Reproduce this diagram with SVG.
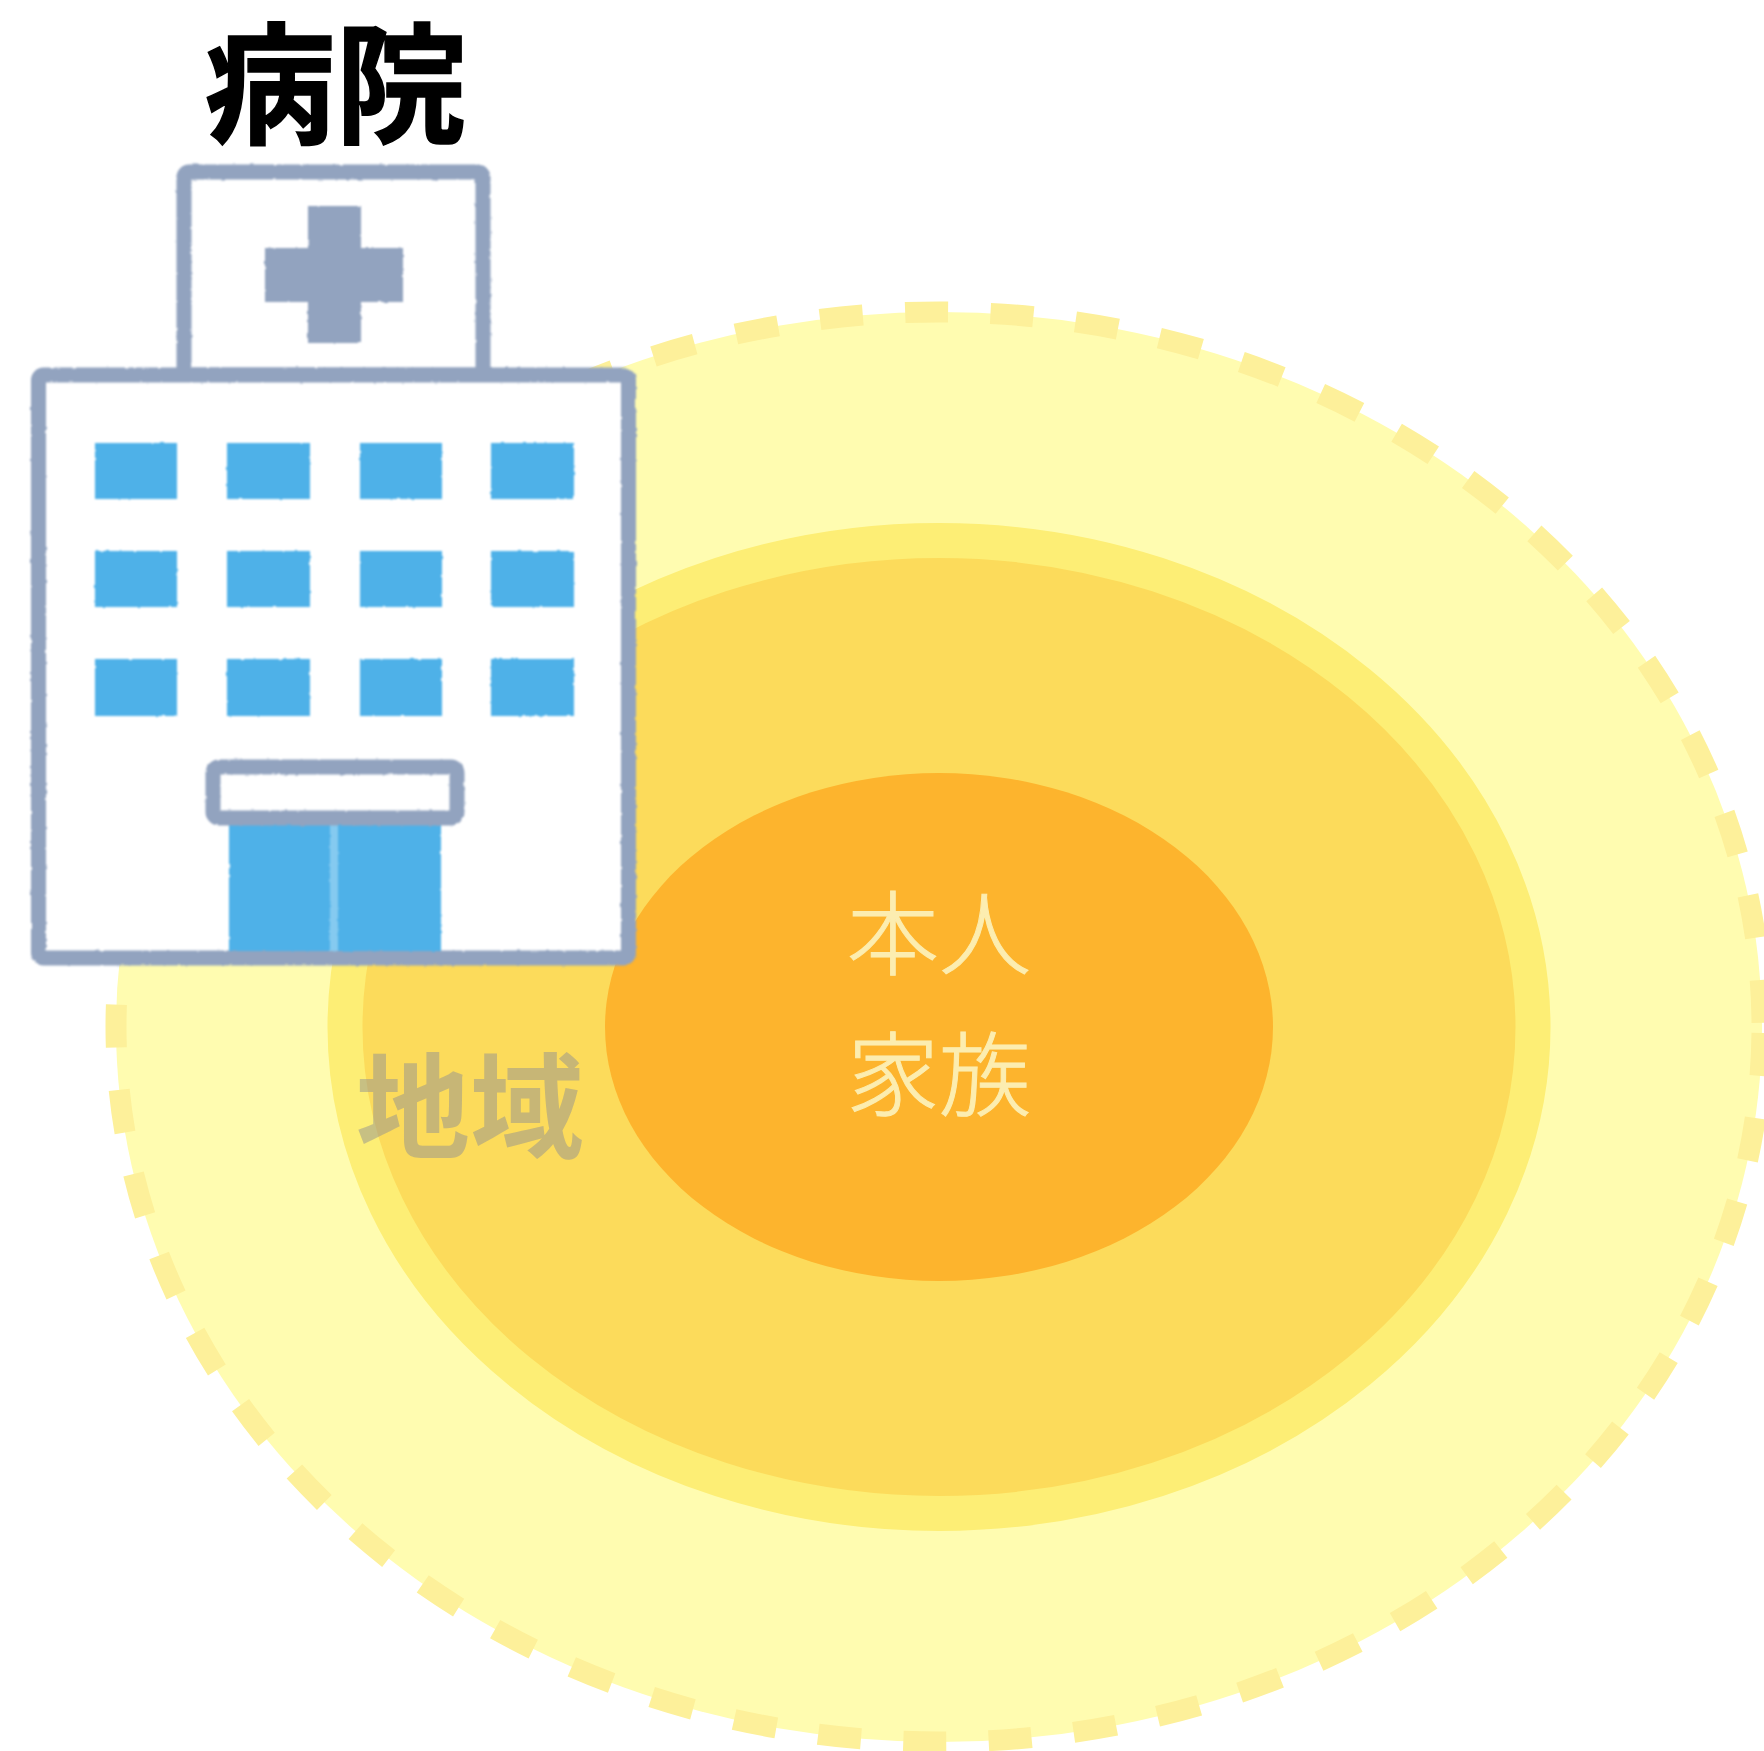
<svg xmlns="http://www.w3.org/2000/svg" width="1764" height="1751" viewBox="0 0 1764 1751">
<defs>
<filter id="soft" x="-5%" y="-5%" width="110%" height="110%" color-interpolation-filters="sRGB">
<feTurbulence type="fractalNoise" baseFrequency="0.18" numOctaves="2" seed="4" result="n"/>
<feDisplacementMap in="SourceGraphic" in2="n" scale="2.500" xChannelSelector="R" yChannelSelector="G"/>
<feGaussianBlur stdDeviation="1.200"/>
</filter>
</defs>
<style>
.t{font-family:"Noto Sans CJK JP","Noto Sans",sans-serif;text-anchor:middle}
.w{fill:#4eb1e8}
.s{fill:#fff;stroke:#92a3bf;stroke-width:15;stroke-linejoin:round}
.c{fill:#92a3bf}
</style>
<rect width="1764" height="1751" fill="#fff"/>
<g id="region-outer">
<ellipse cx="939" cy="1027" rx="823" ry="715" fill="#fffcb0" stroke="#fdf09a" stroke-width="21" stroke-dasharray="43 42.430" stroke-dashoffset="-6"/>
</g>
<g id="region-community">
<ellipse cx="939" cy="1027" rx="594" ry="486.500" fill="#fcdb5b" stroke="#fdee75" stroke-width="35"/>
<text class="t" x="470" y="1149" font-size="114" font-weight="700" fill="#929292" fill-opacity="0.5">地域</text>
</g>
<g id="region-self">
<ellipse cx="939" cy="1027" rx="334" ry="254" fill="#fdb42d"/>
<text class="t" x="939" y="968" font-size="92" font-weight="300" fill="#fcedb0" stroke="#fcedb0" stroke-width="1">本人</text>
<text class="t" x="939" y="1109" font-size="92" font-weight="300" fill="#fcedb0" stroke="#fcedb0" stroke-width="1">家族</text>
</g>
<g id="hospital">
<text class="t" x="335.500" y="133" font-size="131" font-weight="700" fill="#000" stroke="#000" stroke-width="1.500">病院</text>
<g filter="url(#soft)">
<rect class="s" x="184" y="172" width="299" height="203" rx="5"/>
<rect class="c" x="308" y="206" width="53" height="137"/>
<rect class="c" x="265" y="248" width="138" height="54"/>
<rect class="s" x="38.500" y="375" width="590" height="583" rx="5"/>
<rect class="w" x="95" y="443" width="82" height="56"/>
<rect class="w" x="227" y="443" width="83" height="56"/>
<rect class="w" x="360" y="443" width="82" height="56"/>
<rect class="w" x="491" y="443" width="83" height="56"/>
<rect class="w" x="95" y="551" width="82" height="56"/>
<rect class="w" x="227" y="551" width="83" height="56"/>
<rect class="w" x="360" y="551" width="82" height="56"/>
<rect class="w" x="491" y="551" width="83" height="56"/>
<rect class="w" x="95" y="659" width="82" height="57"/>
<rect class="w" x="227" y="659" width="83" height="57"/>
<rect class="w" x="360" y="659" width="82" height="57"/>
<rect class="w" x="491" y="659" width="83" height="57"/>
<rect class="w" x="229" y="822" width="212" height="130"/>
<rect x="330" y="824" width="8" height="127" fill="#85caf0"/>
<rect class="s" x="213" y="767" width="244" height="51" rx="6"/>
<rect x="38" y="951" width="591" height="7" fill="#92a3bf"/>
</g>
</g>
</svg>
